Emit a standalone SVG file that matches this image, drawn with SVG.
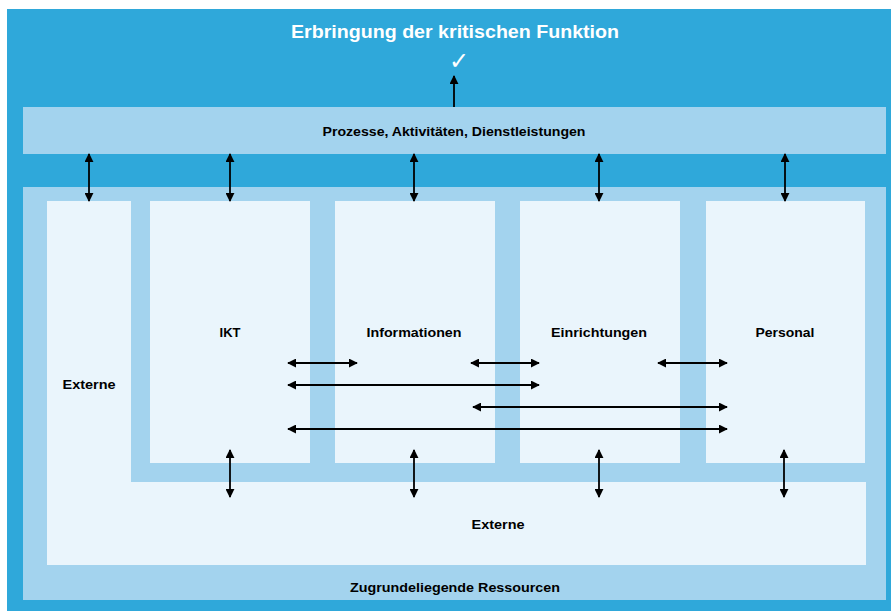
<svg xmlns="http://www.w3.org/2000/svg" width="891" height="612" viewBox="0 0 891 612">
<defs>
<marker id="ah" viewBox="0 0 10 10" refX="9" refY="5" markerWidth="9" markerHeight="9" markerUnits="userSpaceOnUse" orient="auto-start-reverse">
<path d="M0,0 L10,5 L0,10 Z" fill="#000"/>
</marker>
</defs>
<style>
.lbl{font-family:"Liberation Sans",Arial,sans-serif;font-weight:bold;font-size:13px;fill:#000;text-anchor:middle;dominant-baseline:central}
.pale{fill:#EAF5FC}
.light{fill:#A3D3EE}
.c line{stroke:#000;stroke-width:1.8;marker-start:url(#ah);marker-end:url(#ah)}
</style>
<rect x="0" y="0" width="891" height="612" fill="#fff"/>
<rect x="7" y="9" width="884" height="602" fill="#2FA8DA"/>
<g id="title">
<text x="455" y="32" class="lbl" style="fill:#fff;font-size:18px" textLength="328" lengthAdjust="spacingAndGlyphs">Erbringung der kritischen Funktion</text>
<text x="459" y="59" class="lbl" style="fill:#fff;font-size:24px;font-weight:normal;font-family:'Noto Sans','DejaVu Sans',sans-serif">✓</text>
</g>
<g id="prozesse">
<rect x="23" y="107" width="863" height="47" class="light"/>
<text x="454" y="131" class="lbl" textLength="263" lengthAdjust="spacingAndGlyphs">Prozesse, Aktivitäten, Dienstleistungen</text>
</g>
<g id="ressourcen">
<rect x="23" y="187" width="863" height="413" class="light"/>
<text x="455" y="587" class="lbl" textLength="210" lengthAdjust="spacingAndGlyphs">Zugrundeliegende Ressourcen</text>
</g>
<g id="externe">
<path d="M47,201 H131 V482 H866 V565 H47 Z" class="pale"/>
<text x="89" y="384" class="lbl" textLength="53" lengthAdjust="spacingAndGlyphs">Externe</text>
<text x="498" y="524" class="lbl" textLength="53" lengthAdjust="spacingAndGlyphs">Externe</text>
</g>
<g id="ikt">
<rect x="150" y="201" width="160" height="262" class="pale"/>
<text x="230" y="332" class="lbl">IKT</text>
</g>
<g id="informationen">
<rect x="335" y="201" width="160" height="262" class="pale"/>
<text x="414" y="332" class="lbl" textLength="95" lengthAdjust="spacingAndGlyphs">Informationen</text>
</g>
<g id="einrichtungen">
<rect x="520" y="201" width="160" height="262" class="pale"/>
<text x="599" y="332" class="lbl" textLength="96" lengthAdjust="spacingAndGlyphs">Einrichtungen</text>
</g>
<g id="personal">
<rect x="706" y="201" width="159" height="262" class="pale"/>
<text x="785" y="332" class="lbl" textLength="59" lengthAdjust="spacingAndGlyphs">Personal</text>
</g>
<g id="connectors" class="c">
<line x1="454" y1="107" x2="454" y2="76" style="marker-start:none"/>
<line x1="89" y1="154" x2="89" y2="201"/>
<line x1="230" y1="154" x2="230" y2="201"/>
<line x1="414" y1="154" x2="414" y2="201"/>
<line x1="599" y1="154" x2="599" y2="201"/>
<line x1="785" y1="154" x2="785" y2="201"/>
<line x1="230" y1="450" x2="230" y2="497"/>
<line x1="414" y1="450" x2="414" y2="497"/>
<line x1="599" y1="450" x2="599" y2="497"/>
<line x1="784" y1="450" x2="784" y2="497"/>
<line x1="288" y1="363" x2="357" y2="363"/>
<line x1="471" y1="363" x2="539" y2="363"/>
<line x1="658" y1="363" x2="727" y2="363"/>
<line x1="288" y1="385" x2="539" y2="385"/>
<line x1="473" y1="407" x2="727" y2="407"/>
<line x1="288" y1="429" x2="727" y2="429"/>
</g>
</svg>
